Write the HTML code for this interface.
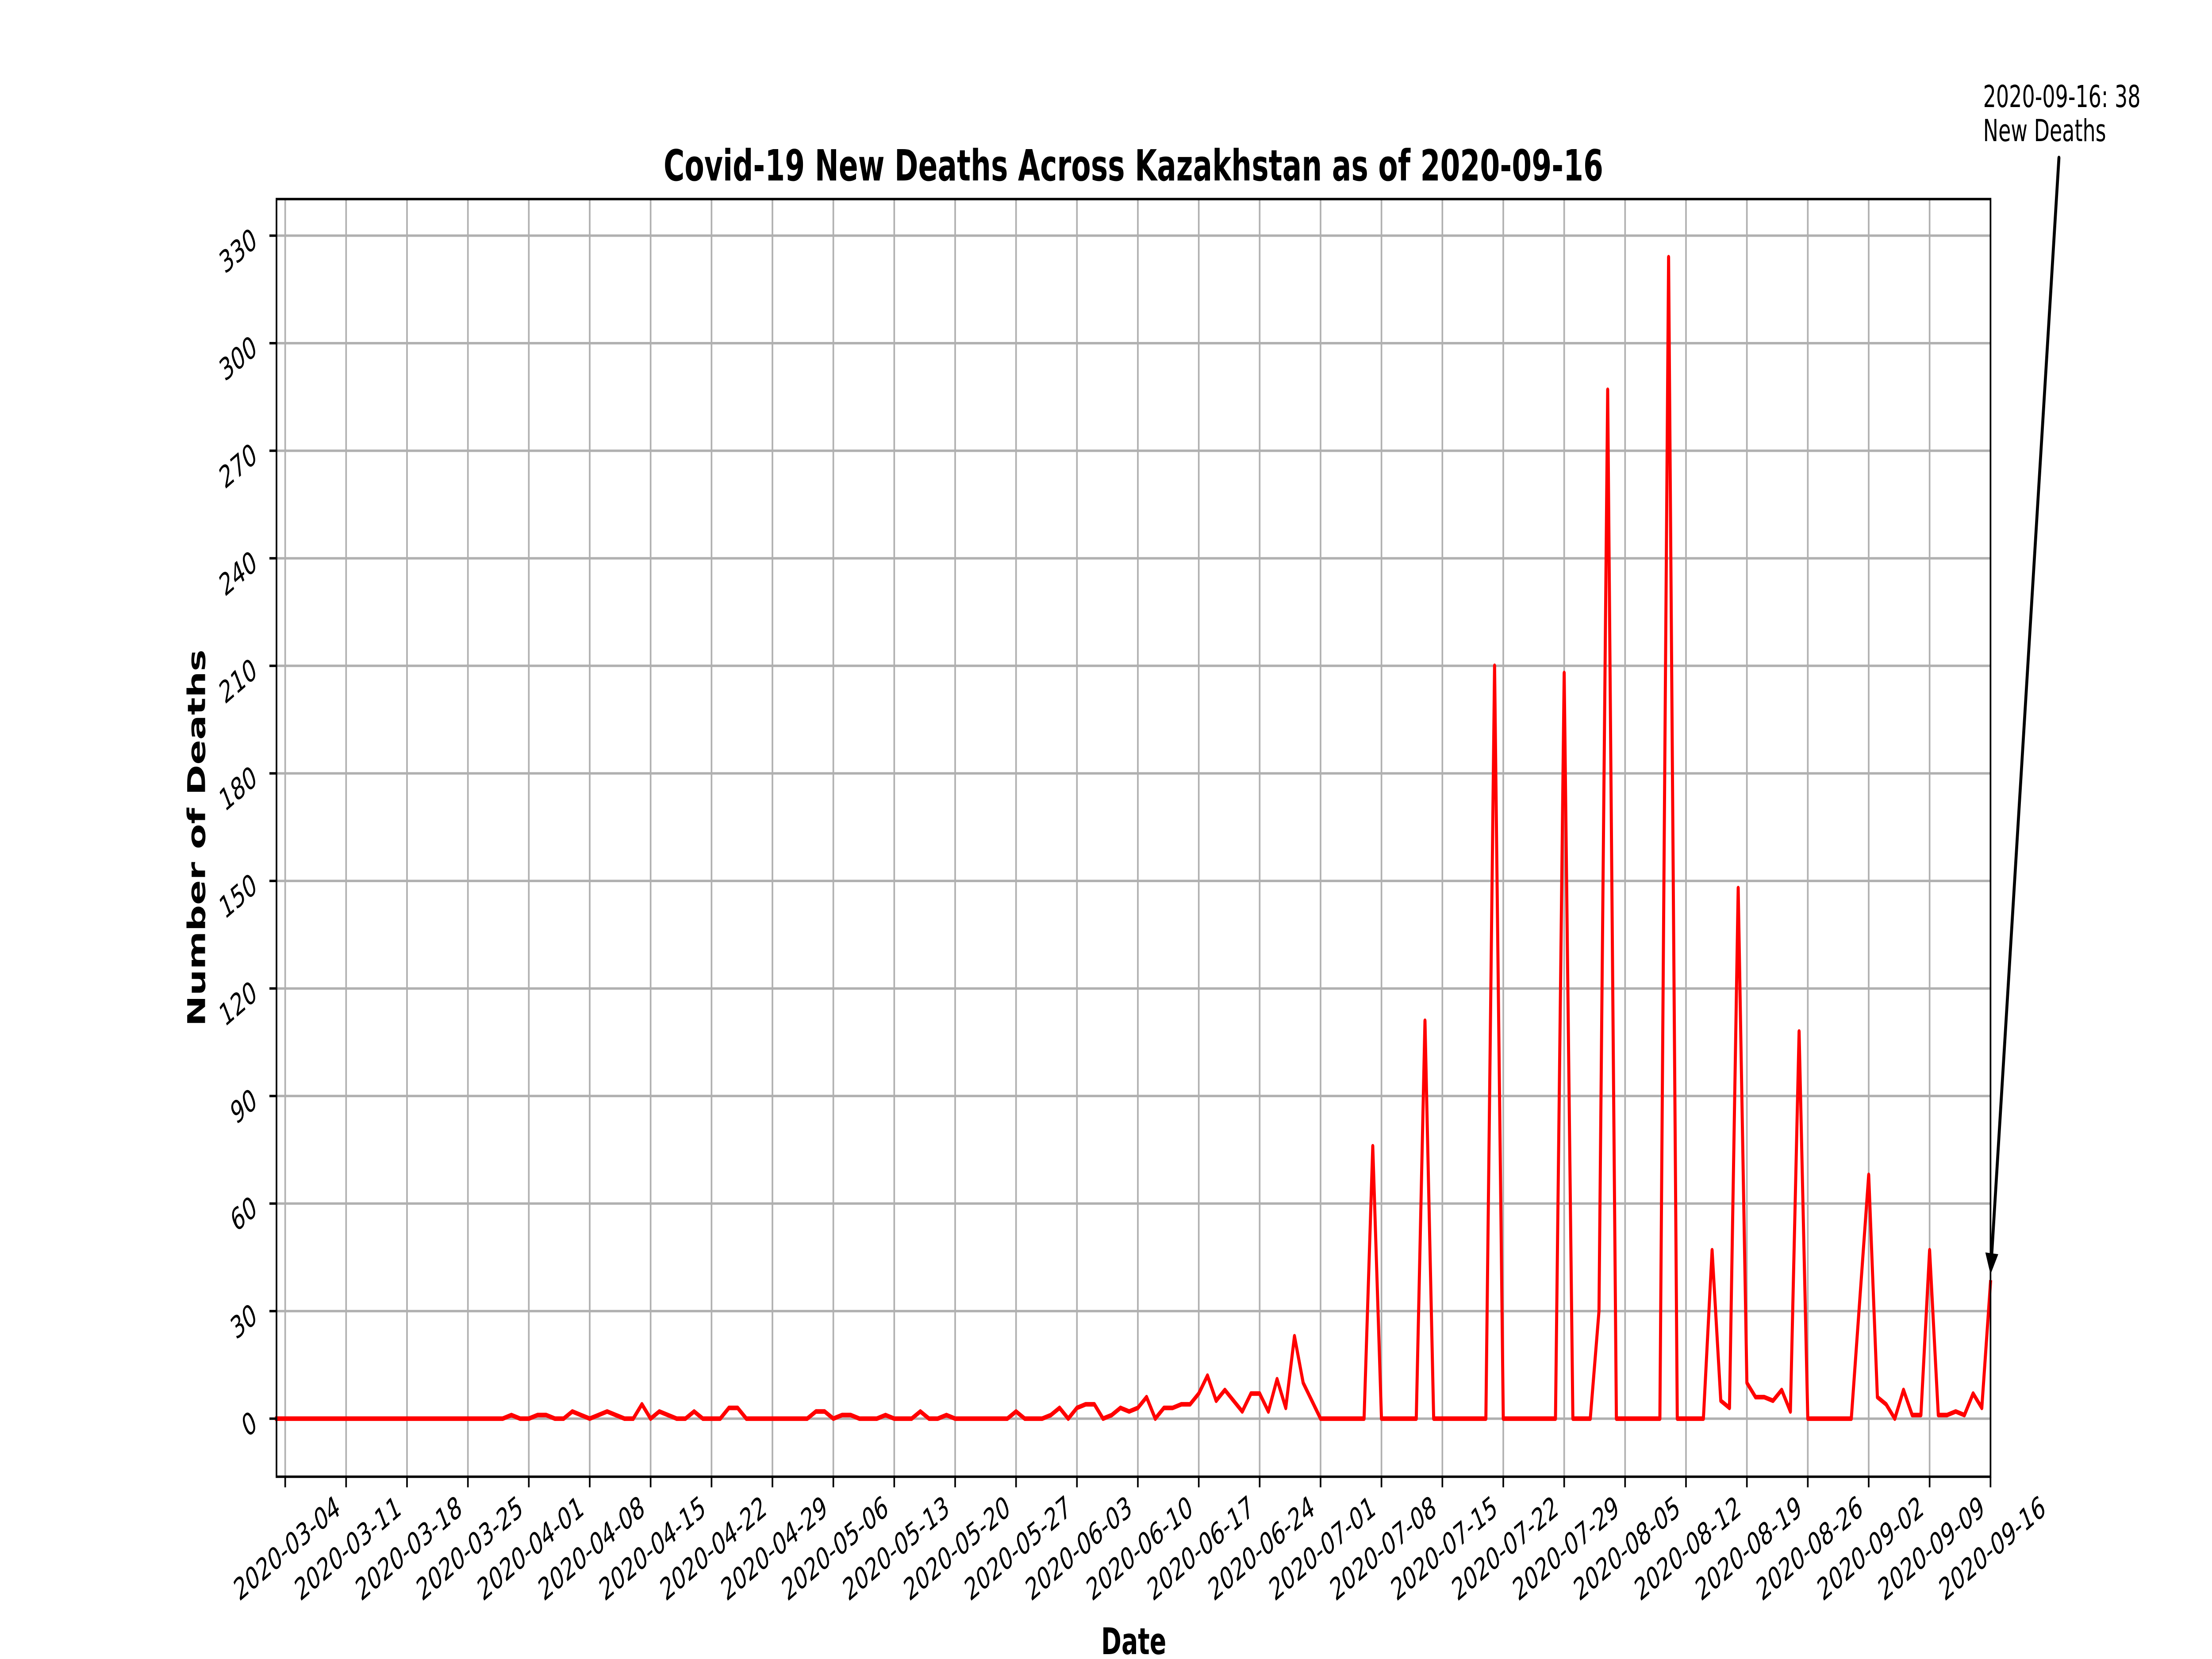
<!DOCTYPE html>
<html><head><meta charset="utf-8"><style>html,body{margin:0;padding:0;background:#fff;overflow:hidden;width:100vw;height:100vh}svg{display:block;width:100vw;height:100vh}text{font-family:"DejaVu Sans","Liberation Sans",sans-serif}</style></head>
<body>
<svg id="chart" xmlns="http://www.w3.org/2000/svg" viewBox="0 0 7500 3750" preserveAspectRatio="none">
<rect x="0" y="0" width="7500" height="3750" fill="#fff"/>
<g id="grid"></g>
<g id="series"></g>
<rect x="937.5" y="450" width="5811.5" height="2888" fill="none" stroke="#000" stroke-width="5.5"/>
<g id="axes"></g>
<text x="3843" y="408" text-anchor="middle" font-size="97" font-weight="bold">Covid-19 New Deaths Across Kazakhstan as of 2020-09-16</text>
<text x="3844" y="3739" text-anchor="middle" font-size="83" font-weight="bold">Date</text>
<text x="0" y="0" transform="translate(695,1894) rotate(-90)" text-anchor="middle" font-size="83" font-weight="bold">Number of Deaths</text>
<g>
<text x="6724" y="242" font-size="69">2020-09-16: 38</text>
<text x="6724" y="319" font-size="69">New Deaths</text>
</g>
<g id="arrow"></g>
</svg>
<script>
const startDate = "2020-03-03";
const deaths = [
0,0,0,0,0,0,0,0,0,0,0,0,0,0,0,0,0,0,0,0,0,0,0,0,0,0,0,1,0,
0,1,1,0,0,2,1,0,1,2,1,0,0,4,0,2,1,0,0,2,0,0,0,3,3,0,0,0,0,0,
0,0,0,2,2,0,1,1,0,0,0,1,0,0,0,2,0,0,1,0,0,0,0,0,0,0,2,0,0,0,1,
3,0,3,4,4,0,1,3,2,3,6,0,3,3,4,4,7,12,5,8,5,2,7,7,2,11,3,23,10,5,
0,0,0,0,0,0,76,0,0,0,0,0,111,0,0,0,0,0,0,0,210,0,0,0,0,0,0,0,208,0,0,
0,30,287,0,0,0,0,0,0,324,0,0,0,0,47,5,3,148,10,6,6,5,8,2,108,0,0,0,0,0,0,
34,68,6,4,0,8,1,1,47,1,1,2,1,7,3,38
];
const xTickLabels = ["2020-03-04","2020-03-11","2020-03-18","2020-03-25","2020-04-01","2020-04-08","2020-04-15","2020-04-22","2020-04-29","2020-05-06","2020-05-13","2020-05-20","2020-05-27","2020-06-03","2020-06-10","2020-06-17","2020-06-24","2020-07-01","2020-07-08","2020-07-15","2020-07-22","2020-07-29","2020-08-05","2020-08-12","2020-08-19","2020-08-26","2020-09-02","2020-09-09","2020-09-16"];
const yTickValues = [0,30,60,90,120,150,180,210,240,270,300,330];
const annotationValue = 38;

const NS = "http://www.w3.org/2000/svg";
const L = 937.5, R = 6749, T = 450, B = 3338;
const Y0 = -16.2, Y1 = 340.2;
const t0 = Date.parse(startDate + "T00:00:00Z");
const DAY = 86400000;
const nDays = deaths.length - 1;
function dayIndex(s){ return (Date.parse(s + "T00:00:00Z") - t0) / DAY; }
function xScale(i){ return L + (R - L) * i / nDays; }
function yScale(v){ return B - (B - T) * (v - Y0) / (Y1 - Y0); }
function mk(tag, attrs, parent){ const e = document.createElementNS(NS, tag); for (const k in attrs) e.setAttribute(k, attrs[k]); parent.appendChild(e); return e; }

const grid = document.getElementById("grid");
const axes = document.getElementById("axes");
xTickLabels.forEach(function(lbl){
  const x = xScale(dayIndex(lbl));
  const g = mk("line", {x1:x, x2:x, y1:T, y2:B, stroke:"#b0b0b0", "stroke-width":5.5}, grid);
  
  
  const tk = mk("line", {x1:x, x2:x, y1:B, y2:B+24, stroke:"#000", "stroke-width":5.5}, axes);
  
  
  const tx = mk("text", {x:0, y:0, transform:"translate(" + (x+6) + ",3500) rotate(-30)", "text-anchor":"middle", "dominant-baseline":"central", "font-size":69}, axes);
  tx.textContent = lbl;
  
  
});
yTickValues.forEach(function(v){
  const y = yScale(v);
  const g = mk("line", {x1:L, x2:R, y1:y, y2:y, stroke:"#b0b0b0", "stroke-width":5.5}, grid);
  
  
  const tk = mk("line", {x1:L-24, x2:L, y1:y, y2:y, stroke:"#000", "stroke-width":5.5}, axes);
  
  
  const tx = mk("text", {x:0, y:0, transform:"translate(876," + (y+22) + ") rotate(-30)", "text-anchor":"end", "font-size":69}, axes);
  tx.textContent = String(v);
  
  
});

const pts = deaths.map(function(v, i){ return xScale(i).toFixed(1) + "," + yScale(v).toFixed(1); }).join(" ");
const line = mk("polyline", {points:pts, fill:"none", stroke:"#ff0000", "stroke-width":10.4, "stroke-linejoin":"round", "stroke-linecap":"square"}, document.getElementById("series"));



const arrow = document.getElementById("arrow");
const tipX = xScale(nDays), tipY = yScale(annotationValue) - 18;
const sx = 6981, sy = 357;
const dx = tipX - sx, dy = tipY - sy, len = Math.hypot(dx, dy), ux = dx/len, uy = dy/len;
const hl = 48, hw = 22;
const bx = tipX - ux*hl, by = tipY - uy*hl;
const shaft = mk("line", {x1:sx, y1:sy, x2:bx, y2:by, stroke:"#000", "stroke-width":10, "stroke-linecap":"round"}, arrow);


const head = mk("polygon", {points: tipX + "," + tipY + " " + (bx - uy*hw) + "," + (by + ux*hw) + " " + (bx + uy*hw) + "," + (by - ux*hw), fill:"#000"}, arrow);


</script>
</body></html>
